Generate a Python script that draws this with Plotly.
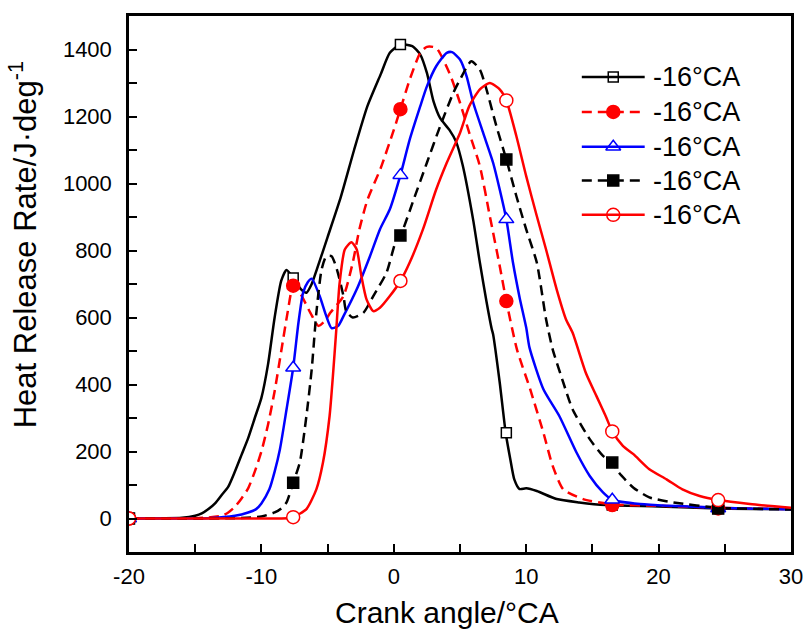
import plotly.graph_objects as go

# ---------------- data ----------------
legend_labels = ["-16°CA", "-16°CA", "-16°CA", "-16°CA", "-16°CA"]

x_tickvals = [-20, -10, 0, 10, 20, 30]
x_ticktext = ["-20", "-10", "0", "10", "20", "30"]
y_tickvals = [0, 200, 400, 600, 800, 1000, 1200, 1400]
y_ticktext = ["0", "200", "400", "600", "800", "1000", "1200", "1400"]

x1 = [-20, -16, -15, -14.5, -14, -13.5, -13, -12.5, -12, -11.5, -11, -10.5, -10, -9.5, -9, -8.5, -8.1, -7.6,
      -7, -6.6, -6.2, -5.8, -5, -4, -3, -2, -1, -0.3, 0.5, 1.4, 2, 2.5, 3, 3.5, 4.2, 4.7, 5.2, 6, 6.5, 7,
      7.4, 7.5, 8, 8.45, 8.8, 9.1, 9.5, 10, 10.8, 12.3, 14, 16, 20, 24.5, 30]
y1 = [0, 2, 8, 15, 28, 45, 70, 95, 140, 190, 240, 300, 360, 460, 600, 710, 742, 718,
      684, 674, 700, 745, 840, 960, 1100, 1230, 1325, 1390, 1415, 1410, 1385, 1330, 1245, 1195, 1160, 1125, 1055, 890, 764, 648,
      565, 550, 406, 256, 177, 117, 88, 90, 82, 58, 48, 40, 36, 30, 28]

x2 = [-20, -15, -14, -13, -12.5, -12, -11.5, -11, -10.5, -10, -9.5, -9, -8.5, -8, -7.6, -7.1, -6.3, -5.7,
      -5.2, -4.8, -3.8, -3.1, -2.6, -2, -1, 0, 0.5, 1.2, 2, 2.5, 3.2, 4.2, 5, 5.7, 6.5, 7.25, 8, 8.5, 9.3,
      10.3, 11.3, 12, 12.8, 14.3, 16.5, 20, 24.5, 30]
y2 = [0, 1, 3, 8, 18, 35, 60, 90, 140, 200, 280, 380, 500, 620, 695, 674, 614, 575,
      590, 614, 664, 764, 863, 950, 1045, 1160, 1222, 1310, 1390, 1408, 1405, 1330, 1241, 1151, 1052, 903, 754, 649, 505,
      386, 256, 157, 87, 58, 42, 38, 32, 28]

x3 = [-20, -14, -12, -11, -10.4, -10, -9.4, -9, -8.6, -8.1, -7.6, -7.2, -6.85, -6.5, -6.2, -5.6, -5.1, -4.7,
      -4.2, -3.8, -2.8, -1.8, -1.05, -0.3, 0.5, 1.2, 2, 2.5, 3.2, 4, 4.4, 5, 5.5, 6, 6.75, 7.5, 8, 8.5, 9,
      9.5, 10, 10.25, 11.3, 12.5, 13.8, 14.8, 15.8, 16.5, 18.6, 24.5, 30]
y3 = [0, 1, 8, 18, 28, 45, 87, 140, 207, 326, 450, 585, 674, 705, 716, 664, 604, 568,
      575, 604, 684, 783, 863, 923, 1025, 1131, 1231, 1290, 1350, 1390, 1392, 1370, 1320, 1241, 1151, 1062, 982, 893, 764,
      660, 570, 510, 386, 306, 197, 127, 78, 56, 43, 32, 27]

x4 = [-20, -12, -10, -9, -8.5, -8.1, -7.6, -7.1, -6.6, -6.2, -5.85, -5.45, -5.1, -4.7, -4.3, -3.8, -3.6, -3.1,
      -2.3, -1.55, -0.55, 0.2, 0.5, 1.5, 2.5, 3.5, 4.5, 5.0, 5.85, 6.5, 7.0, 7.75, 8.5, 9.26, 10, 10.8,
      11.5, 12, 12.8, 13.5, 14.8, 15.8, 16.5, 17.0, 18.1, 19.3, 21.1, 24.5, 30]
y4 = [0, 1, 6, 18, 30, 48, 107, 167, 306, 445, 614, 744, 783, 783, 744, 664, 619, 600,
      614, 664, 734, 833, 845, 952, 1062, 1171, 1271, 1310, 1365, 1340, 1281, 1171, 1072, 962, 863, 764,
      595, 505, 406, 326, 237, 187, 167, 137, 92, 63, 48, 32, 27]

x5 = [-20, -10, -8, -7.6, -6.6, -5.85, -5.35, -4.85, -4.6, -4.35, -4.1, -3.7, -3.2, -2.8, -2.45, -2.06, -1.55,
      -1.05, -0.3, 0.5, 1.2, 2.2, 3.2, 4.0, 5.0, 5.7, 6.5, 7.25, 8.0, 8.5, 9.26, 10, 10.8, 11.5, 12.3, 13.0,
      13.5, 14.5, 15.3, 16.0, 16.5, 17.3, 18.1, 19.3, 20.6, 21.8, 23.1, 24.5, 26.9, 30]
y5 = [0, 0, 1, 4, 28, 87, 167, 306, 425, 560, 700, 803, 825, 803, 724, 654, 619,
      629, 664, 709, 764, 863, 982, 1062, 1151, 1231, 1281, 1300, 1281, 1248, 1141, 1022, 903, 803, 684, 595,
      555, 435, 366, 306, 260, 217, 192, 147, 117, 87, 67, 55, 43, 32]

# marker positions (crank angle) and marker values read for each series
marker_x = [-20, -7.6, 0.5, 8.5, 16.5, 24.5]
m1 = [0, 718, 1415, 256, 40, 30]
m2 = [0, 695, 1222, 649, 40, 30]
m3 = [0, 450, 1025, 893, 56, 30]
m4 = [0, 107, 845, 1072, 167, 30]
m5 = [0, 4, 709, 1248, 260, 55]

x_title = "Crank angle/°CA"
y_title = "Heat Release Rate/J·deg<sup>-1</sup>"

# ---------------- styles / layout ----------------
FONT = "Liberation Sans, Arial, sans-serif"
series = [
    dict(x=x1, y=y1, m=m1, color="#000000", dash="solid", symbol="square", size=10, fill="#ffffff"),
    dict(x=x2, y=y2, m=m2, color="#ff0000", dash="10px,6px", symbol="circle", size=13, fill="#ff0000"),
    dict(x=x3, y=y3, m=m3, color="#0000ff", dash="solid", symbol="triangle-up", size=13, fill="#ffffff"),
    dict(x=x4, y=y4, m=m4, color="#000000", dash="10px,6px", symbol="square", size=11, fill="#000000"),
    dict(x=x5, y=y5, m=m5, color="#ff0000", dash="solid", symbol="circle", size=13, fill="#ffffff"),
]

# custom legend geometry (paper coordinates of the plot area)
leg_line_x0, leg_line_x1, leg_mark_x, leg_text_x = 0.684, 0.779, 0.7315, 0.789
leg_rows_y = [0.886, 0.821, 0.756, 0.693, 0.629]

LW = 2.5
fig = go.Figure()

for s in series:
    fig.add_trace(go.Scatter(
        x=s["x"], y=s["y"], mode="lines",
        line=dict(color=s["color"], width=LW, dash=s["dash"], shape="spline", smoothing=0.6),
        showlegend=False, hoverinfo="skip"))

for s in series:
    fig.add_trace(go.Scatter(
        x=marker_x, y=s["m"], mode="markers",
        marker=dict(symbol=s["symbol"], size=s["size"], color=s["fill"],
                    line=dict(color=s["color"], width=1.5)),
        showlegend=False, hoverinfo="skip"))

# legend built by hand: long sample line + marker + label
for s, lab, ry in zip(series, legend_labels, leg_rows_y):
    fig.add_shape(type="line", xref="paper", yref="paper",
                  x0=leg_line_x0, x1=leg_line_x1, y0=ry, y1=ry,
                  line=dict(color=s["color"], width=LW, dash=s["dash"]))
    fig.add_trace(go.Scatter(
        x=[leg_mark_x], y=[ry], xaxis="x2", yaxis="y2", mode="markers",
        marker=dict(symbol=s["symbol"], size=s["size"], color=s["fill"],
                    line=dict(color=s["color"], width=1.5)),
        showlegend=False, hoverinfo="skip", cliponaxis=False))
    fig.add_annotation(x=leg_text_x, y=ry, xref="paper", yref="paper", text=lab,
                       showarrow=False, xanchor="left", yanchor="middle",
                       font=dict(size=27, family=FONT, color="black"))

tickfont = dict(family=FONT, size=22, color="black")
minor_x = dict(dtick=5, tick0=-20, ticks="inside", ticklen=8, tickwidth=2, tickcolor="black", showgrid=False)
minor_y = dict(dtick=100, tick0=0, ticks="inside", ticklen=8, tickwidth=2, tickcolor="black", showgrid=False)

fig.update_layout(
    width=803, height=630,
    margin=dict(l=129, r=12, t=16, b=78),
    plot_bgcolor="white", paper_bgcolor="white",
    font=dict(family=FONT, color="black"),
    showlegend=False,
    xaxis=dict(range=[-20, 30], tickmode="array", tickvals=x_tickvals, ticktext=x_ticktext,
               showline=True, linecolor="black", linewidth=2.5, mirror=True,
               ticks="inside", ticklen=8, tickwidth=2, tickcolor="black",
               showgrid=False, zeroline=False, automargin=False, tickfont=tickfont,
               ticklabelstandoff=3, ticklabeloverflow="allow", minor=minor_x),
    yaxis=dict(range=[-100, 1500], tickmode="array", tickvals=y_tickvals, ticktext=y_ticktext,
               showline=True, linecolor="black", linewidth=2.5, mirror=True,
               ticks="inside", ticklen=8, tickwidth=2, tickcolor="black",
               showgrid=False, zeroline=False, automargin=False, tickfont=tickfont,
               ticklabelstandoff=10, ticklabeloverflow="allow", minor=minor_y),
    xaxis2=dict(range=[0, 1], overlaying="x", anchor="y2", visible=False, fixedrange=True),
    yaxis2=dict(range=[0, 1], overlaying="y", anchor="x2", visible=False, fixedrange=True),
)

fig.add_annotation(x=0.48, y=-0.112, xref="paper", yref="paper", text=x_title, showarrow=False,
                   xanchor="center", yanchor="middle", font=dict(size=30, family=FONT, color="black"))
fig.add_annotation(x=-0.161, y=0.573, xref="paper", yref="paper", text=y_title, showarrow=False,
                   textangle=-90, xanchor="center", yanchor="middle",
                   font=dict(size=31, family=FONT, color="black"))

fig.write_html("out.html", config={"displayModeBar": False},
               post_script="document.body.style.margin='0px';")
